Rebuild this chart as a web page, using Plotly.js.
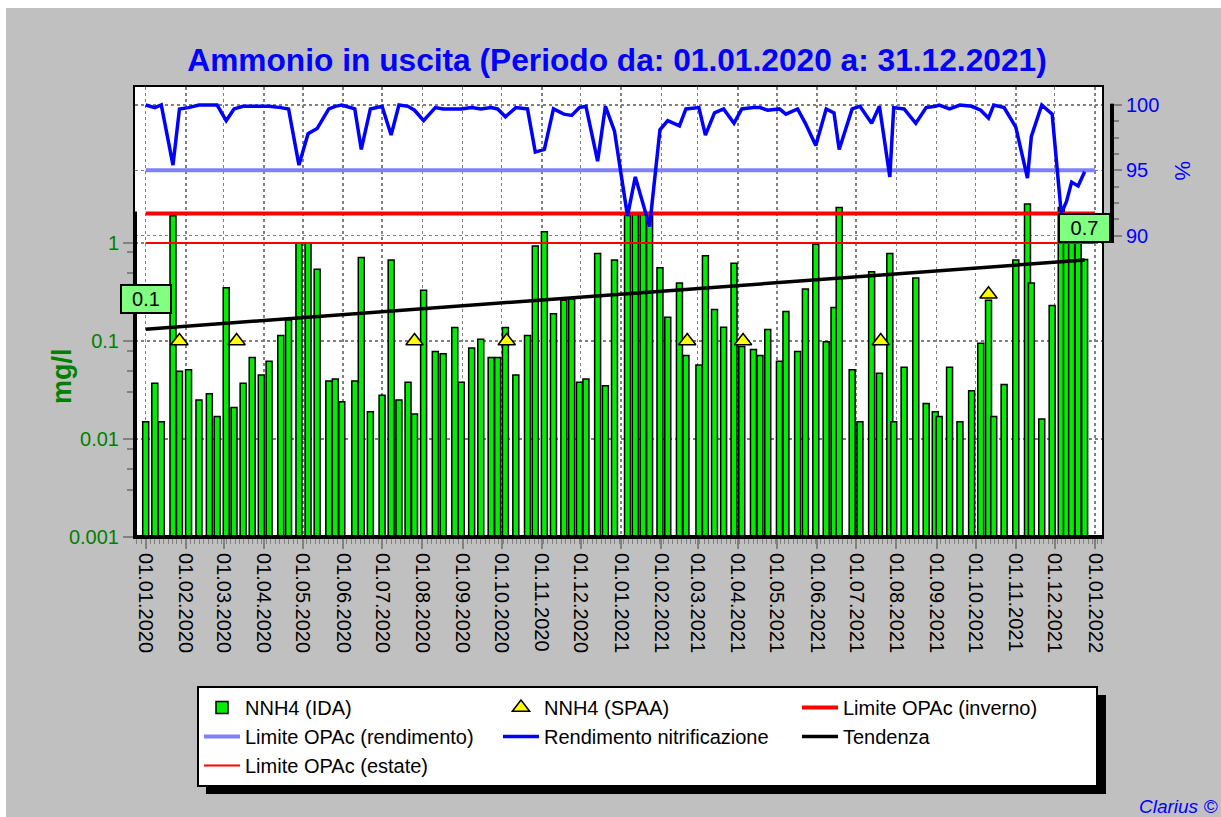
<!DOCTYPE html>
<html>
<head>
<meta charset="utf-8">
<script src="https://cdn.plot.ly/plotly-3.0.1.min.js"></script>
<style>html,body{margin:0;padding:0;background:#ffffff;}#chart{width:1221px;height:817px;}</style>
</head>
<body>
<div id="chart"></div>
<script>
// ---- data ----
const sampleDates = [
'2020-01-01','2020-01-08','2020-01-13','2020-01-22','2020-01-27',
'2020-02-03','2020-02-11','2020-02-19','2020-02-25',
'2020-03-03','2020-03-09','2020-03-16','2020-03-23','2020-03-30',
'2020-04-05','2020-04-14','2020-04-20','2020-04-28',
'2020-05-05','2020-05-12','2020-05-21','2020-05-26','2020-05-31',
'2020-06-10','2020-06-15','2020-06-22',
'2020-07-01','2020-07-08','2020-07-14','2020-07-21','2020-07-26',
'2020-08-02','2020-08-11','2020-08-17','2020-08-26','2020-08-31',
'2020-09-08','2020-09-15','2020-09-23','2020-09-28',
'2020-10-04','2020-10-12','2020-10-21','2020-10-27',
'2020-11-03','2020-11-10','2020-11-18','2020-11-24','2020-11-30',
'2020-12-05','2020-12-14','2020-12-20','2020-12-27',
'2021-01-06','2021-01-12','2021-01-18','2021-01-23','2021-01-31',
'2021-02-06','2021-02-15','2021-02-20',
'2021-03-02','2021-03-07','2021-03-14','2021-03-21','2021-03-29',
'2021-04-04','2021-04-13','2021-04-18','2021-04-24',
'2021-05-03','2021-05-08','2021-05-17','2021-05-23','2021-05-31',
'2021-06-08','2021-06-14','2021-06-18','2021-06-28',
'2021-07-04','2021-07-13','2021-07-19','2021-07-27','2021-07-30',
'2021-08-07','2021-08-16','2021-08-24','2021-08-31',
'2021-09-03','2021-09-11','2021-09-19','2021-09-28',
'2021-10-05','2021-10-11','2021-10-15','2021-10-23',
'2021-11-01','2021-11-10','2021-11-13','2021-11-21','2021-11-29',
'2021-12-06','2021-12-10','2021-12-14','2021-12-19','2021-12-24'
];
const nnh4IDA = [
0.015,0.037,0.015,1.9,0.049,
0.051,0.025,0.029,0.017,
0.35,0.021,0.037,0.068,0.045,
0.062,0.114,0.164,1.0,
1.0,0.54,0.039,0.041,0.024,
0.039,0.71,0.019,
0.028,0.67,0.025,0.038,0.018,
0.33,0.078,0.074,0.137,0.038,
0.085,0.104,0.068,0.068,
0.137,0.045,0.114,0.93,
1.3,0.19,0.26,0.27,0.038,
0.041,0.78,0.035,0.67,
1.95,1.95,1.95,1.95,0.56,
0.175,0.39,0.071,
0.057,0.74,0.21,0.138,0.62,
0.088,0.082,0.071,0.131,
0.062,0.20,0.078,0.34,0.97,
0.098,0.22,2.3,0.051,
0.015,0.51,0.047,0.78,0.015,
0.054,0.44,0.023,0.019,
0.017,0.054,0.015,0.031,
0.095,0.26,0.017,0.036,
0.67,2.5,0.39,0.016,0.23,
2.3,1.5,1.2,1.1,0.68
];
const rendimento = [
100.0,99.8,100.0,95.4,99.7,
99.8,100.0,100.0,100.0,
98.8,99.7,99.9,99.9,99.9,
99.9,99.8,99.7,95.4,
97.8,98.2,99.7,99.9,100.0,
99.7,96.6,99.7,
99.9,97.7,100.0,99.9,99.6,
98.8,99.8,99.7,99.7,99.7,
99.8,99.7,99.8,99.7,
99.1,99.8,99.7,96.4,
96.6,99.7,99.3,99.2,99.8,
99.9,95.7,99.9,98.0,
91.5,94.5,92.5,90.7,98.1,
98.8,98.4,99.7,
99.8,97.7,99.4,99.7,98.6,
99.7,99.8,99.8,99.6,
99.7,99.3,99.7,98.6,96.9,
99.7,99.4,96.6,99.7,
99.9,98.6,99.9,94.5,99.8,
99.7,98.6,99.8,99.9,
100.0,99.7,100.0,99.9,
99.6,99.0,100.0,99.8,
98.3,94.4,97.6,100.0,99.3,
91.7,92.6,94.1,93.8,94.9
];
const spaaDates = ['2020-01-27','2020-03-11','2020-07-26','2020-10-05','2021-02-21','2021-04-05','2021-07-20','2021-10-11'];
const spaaValues = [0.1,0.1,0.1,0.1,0.1,0.1,0.1,0.3];
const limitDates = ['2020-01-01','2022-01-01'];
const limiteInverno = [2, 2];
const limiteEstate = [1, 1];
const limiteRendimento = [95, 95];
const trendDates = ['2020-01-01','2021-12-24'];
const trendValues = [0.132, 0.67];
const leftTickVals = [0.001, 0.01, 0.1, 1];
const leftTickText = ['0.001', '0.01', '0.1', '1'];
const rightTickVals = [90, 95, 100];
const rightTickText = ['90', '95', '100'];

// ---- styling ----
const FONT = 'Liberation Sans, Arial, sans-serif';
const yRange = [-3, 1.5918];
const y2Range = [66.95, 101.377];
const DAY = 86400000;
function logFrac(v){ return (Math.log10(v) - yRange[0]) / (yRange[1] - yRange[0]); }

const traces = [
  { type: 'bar', name: 'NNH4 (IDA)', x: sampleDates, y: nnh4IDA, yaxis: 'y',
    width: 4.6 * DAY,
    marker: { color: '#00ee00', line: { color: '#000000', width: 1.5 } } },
  { type: 'scatter', mode: 'markers', name: 'NNH4 (SPAA)', x: spaaDates, y: spaaValues, yaxis: 'y',
    marker: { symbol: 'triangle-up', size: 15, color: '#ffff00', line: { color: '#000000', width: 1.5 } } },
  { type: 'scatter', mode: 'lines', name: 'Limite OPAc (inverno)', x: limitDates, y: limiteInverno, yaxis: 'y',
    line: { color: '#ff0000', width: 4 } },
  { type: 'scatter', mode: 'lines', name: 'Limite OPAc (rendimento)', x: limitDates, y: limiteRendimento, yaxis: 'y2',
    line: { color: '#8080ff', width: 4 } },
  { type: 'scatter', mode: 'lines', name: 'Rendimento nitrificazione', x: sampleDates, y: rendimento, yaxis: 'y2',
    line: { color: '#0000ff', width: 3.5 } },
  { type: 'scatter', mode: 'lines', name: 'Tendenza', x: trendDates, y: trendValues, yaxis: 'y',
    line: { color: '#000000', width: 3.5 } },
  { type: 'scatter', mode: 'lines', name: 'Limite OPAc (estate)', x: limitDates, y: limiteEstate, yaxis: 'y',
    line: { color: '#ff0000', width: 2 } }
];

const W = 1221, H = 817, ML = 135, MR = 109, MT = 87, MB = 280;
const PW = W - ML - MR, PH = H - MT - MB;
function px2paperX(px){ return (px - ML) / PW; }
function px2paperY(py){ return (H - MB - py) / PH; }

const layout = {
  width: W, height: H,
  margin: { l: ML, r: MR, t: MT, b: MB, pad: 0 },
  paper_bgcolor: '#c0c0c0',
  plot_bgcolor: '#ffffff',
  font: { family: FONT, size: 20, color: '#000000' },
  showlegend: true,
  bargap: 0,
  title: { text: 'Ammonio in uscita (Periodo da: 01.01.2020 a: 31.12.2021)',
    font: { family: FONT, size: 31.7, color: '#0000ff', weight: 'bold' },
    xref: 'container', x: 617 / W, xanchor: 'center',
    yref: 'container', y: 1 - 60 / H, yanchor: 'middle' },
  xaxis: {
    type: 'date', domain: [0, (1102 - ML) / PW],
    range: ['2019-12-23 18:14', '2022-01-06 09:20'],
    tick0: '2020-01-01', dtick: 'M1', tickformat: '%d.%m.%Y', tickangle: 90,
    tickfont: { family: FONT, size: 20, color: '#000000' },
    ticks: 'outside', ticklen: 10, tickwidth: 2, tickcolor: '#808080',
    minor: { ticks: 'outside', ticklen: 5, tickwidth: 1, tickcolor: '#808080', dtick: 3.44 * DAY, tick0: '2020-01-01', showgrid: false },
    showgrid: true, gridcolor: '#808080', gridwidth: 1.5, griddash: 'dot',
    showline: true, mirror: true, linecolor: '#000000', linewidth: 2,
    zeroline: false, fixedrange: true
  },
  yaxis: {
    type: 'log', range: yRange,
    tickmode: 'array', tickvals: leftTickVals, ticktext: leftTickText,
    tickfont: { family: FONT, size: 20, color: '#008000' },
    ticks: 'outside', ticklen: 10, tickwidth: 2, tickcolor: '#808080',
    minor: { ticks: 'outside', ticklen: 6, tickwidth: 2, tickcolor: '#808080',
      tickvals: [0.003,0.005,0.008,0.03,0.05,0.08,0.3,0.5,0.8], showgrid: false },
    showgrid: true, gridcolor: '#808080', gridwidth: 1.5, griddash: 'dot',
    showline: true, mirror: true, linecolor: '#000000', linewidth: 2,
    zeroline: false, fixedrange: true
  },
  yaxis2: {
    overlaying: 'y', side: 'right', anchor: 'free', position: 1,
    range: y2Range,
    tickmode: 'array', tickvals: rightTickVals, ticktext: rightTickText,
    tickfont: { family: FONT, size: 20, color: '#0000ff' },
    ticks: 'outside', ticklen: 9, tickwidth: 2, tickcolor: '#808080',
    minor: { ticks: 'outside', ticklen: 6, tickwidth: 2, tickcolor: '#808080',
      tickvals: [91.25,92.5,93.75,96.25,97.5,98.75], showgrid: false },
    showgrid: true, gridcolor: '#808080', gridwidth: 1.5, griddash: 'dot',
    showline: false, zeroline: false, fixedrange: true
  },
  legend: {
    orientation: 'h', x: px2paperX(197), xanchor: 'left', y: px2paperY(686), yanchor: 'top',
    bgcolor: '#ffffff', bordercolor: '#000000', borderwidth: 2,
    font: { family: FONT, size: 20, color: '#000000' },
    entrywidth: 248, itemwidth: 36, traceorder: 'normal', tracegroupgap: 0
  },
  shapes: [
    // white page margin strips
    { type: 'rect', xref: 'paper', yref: 'paper', x0: px2paperX(-5), x1: px2paperX(6), y0: px2paperY(H + 5), y1: px2paperY(-5),
      fillcolor: '#ffffff', line: { width: 0 }, layer: 'below' },
    { type: 'rect', xref: 'paper', yref: 'paper', x0: px2paperX(-5), x1: px2paperX(W + 5), y0: px2paperY(8), y1: px2paperY(-5),
      fillcolor: '#ffffff', line: { width: 0 }, layer: 'below' },
    // thick bottom axis line
    { type: 'line', xref: 'x domain', yref: 'y domain', x0: 0, x1: 1, y0: 0, y1: 0,
      line: { color: '#000000', width: 4 }, layer: 'above' },
    // thick left axis line (visible mg/l range)
    { type: 'line', xref: 'x domain', yref: 'y domain', x0: 0, x1: 0, y0: 0, y1: logFrac(2.1),
      line: { color: '#000000', width: 4 }, layer: 'above' },
    // right % axis line
    { type: 'line', xref: 'paper', yref: 'y2', x0: 1, x1: 1, y0: 89.44, y1: 100.1,
      line: { color: '#000000', width: 4 }, layer: 'above' },
    // legend shadow
    { type: 'rect', xref: 'paper', yref: 'paper', x0: px2paperX(206), x1: px2paperX(1106), y0: px2paperY(794), y1: px2paperY(695),
      fillcolor: '#000000', line: { width: 0 }, layer: 'above' }
  ],
  annotations: [
    { text: trendValues[0].toFixed(1), xref: 'x', yref: 'y', x: trendDates[0], y: Math.log10(trendValues[0]),
      yshift: 30, showarrow: false, bgcolor: '#80ff80', bordercolor: '#000000', borderwidth: 2, borderpad: 1,
      width: 46, height: 24, font: { family: FONT, size: 20, color: '#000000' } },
    { text: trendValues[1].toFixed(1), xref: 'x', yref: 'y', x: trendDates[1], y: Math.log10(trendValues[1]),
      yshift: 32, showarrow: false, bgcolor: '#80ff80', bordercolor: '#000000', borderwidth: 2, borderpad: 1,
      width: 47, height: 24, font: { family: FONT, size: 20, color: '#000000' } },
    { text: 'mg/l', xref: 'paper', yref: 'paper', x: px2paperX(62), y: px2paperY(376), textangle: -90,
      showarrow: false, xanchor: 'center', yanchor: 'middle',
      font: { family: FONT, size: 27, color: '#008000', weight: 'bold' } },
    { text: '%', xref: 'paper', yref: 'paper', x: px2paperX(1183), y: px2paperY(171), textangle: 90,
      showarrow: false, xanchor: 'center', yanchor: 'middle',
      font: { family: FONT, size: 22, color: '#0000ff' } },
    { text: 'Clarius ©', xref: 'paper', yref: 'paper', x: px2paperX(1219), y: px2paperY(806),
      showarrow: false, xanchor: 'right', yanchor: 'middle',
      font: { family: FONT, size: 19, color: '#0000ff', style: 'italic' } }
  ]
};

Plotly.newPlot('chart', traces, layout, { displayModeBar: false, staticPlot: true });
</script>
</body>
</html>
